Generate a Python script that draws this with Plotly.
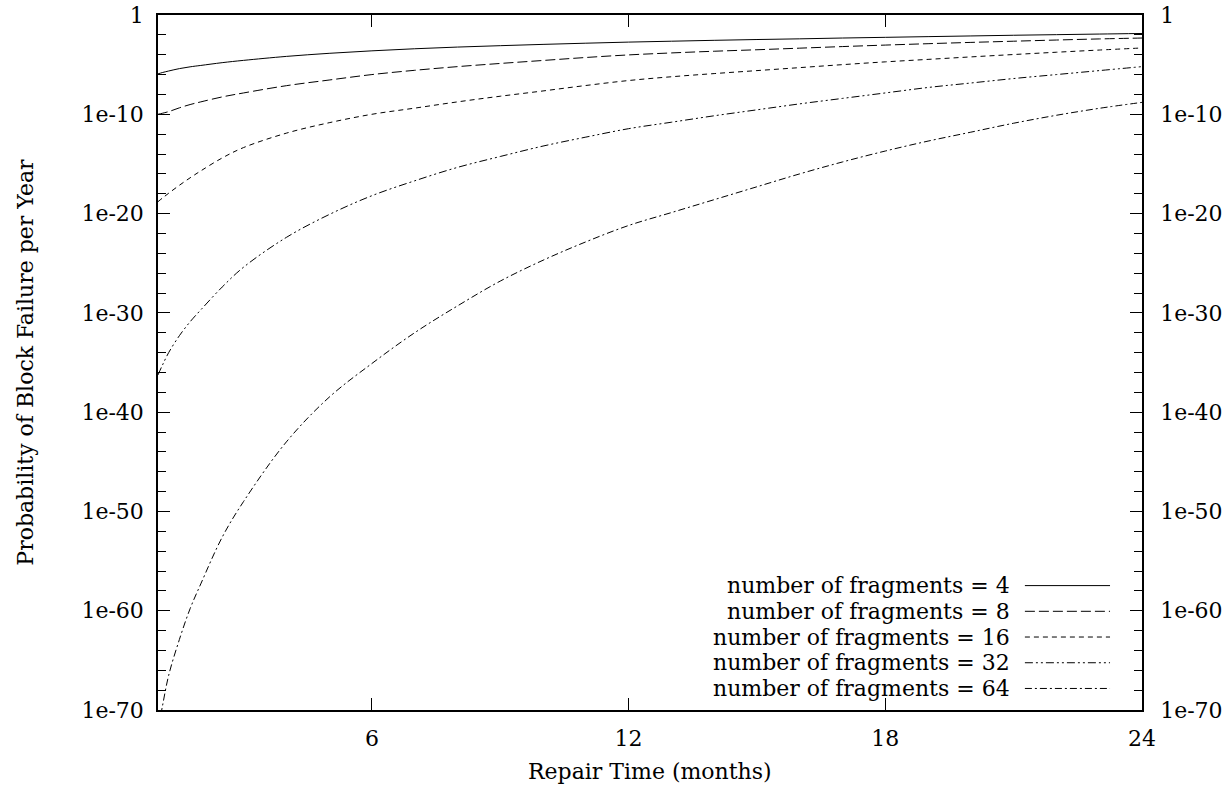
import plotly.graph_objects as go

# Repair time in months
months = [1, 1.1, 1.25, 1.5, 1.75, 2, 2.5, 3, 4, 5, 6, 7, 8, 9, 10, 11, 12,
          13, 14, 15, 16, 17, 18, 19, 20, 21, 22, 23, 24]

# Probability of block failure per year, given as decades below 1 (P = 10^-value)
neglog_n4 = [5.93, 5.8, 5.64, 5.40, 5.22, 5.08, 4.80, 4.57, 4.17, 3.86, 3.61, 3.40,
             3.23, 3.09, 2.96, 2.84, 2.73, 2.64, 2.55, 2.47, 2.40, 2.32, 2.25, 2.18,
             2.11, 2.04, 1.98, 1.92, 1.86]
neglog_n8 = [10.0, 9.9, 9.73, 9.35, 9.02, 8.75, 8.25, 7.85, 7.12, 6.55, 6.0, 5.57,
             5.2, 4.88, 4.58, 4.28, 4.02, 3.82, 3.65, 3.5, 3.34, 3.18, 3.03, 2.89,
             2.76, 2.64, 2.52, 2.41, 2.32]
neglog_n16 = [18.8, 18.45, 17.95, 17.15, 16.4, 15.7, 14.4, 13.35, 11.9, 10.85, 10.0,
              9.38, 8.75, 8.18, 7.65, 7.1, 6.6, 6.22, 5.9, 5.6, 5.3, 5.0, 4.72, 4.47,
              4.22, 3.98, 3.75, 3.53, 3.32]
neglog_n32 = [36.25, 35.3, 34.0, 32.3, 30.9, 29.7, 27.4, 25.4, 22.4, 20.1, 18.2,
              16.7, 15.35, 14.25, 13.2, 12.3, 11.45, 10.8, 10.15, 9.55, 8.95, 8.4,
              7.85, 7.3, 6.85, 6.4, 6.0, 5.6, 5.2]
neglog_n64 = [72.0, 69.7, 66.5, 62.9, 59.8, 57.3, 52.6, 49.0, 43.0, 38.5, 35.1, 32.0,
              29.3, 26.8, 24.7, 22.85, 21.2, 19.9, 18.6, 17.3, 16.0, 14.8, 13.7, 12.7,
              11.8, 10.9, 10.1, 9.4, 8.8]

series_names = ["number of fragments = 4", "number of fragments = 8",
                "number of fragments = 16", "number of fragments = 32",
                "number of fragments = 64"]
series_values = [neglog_n4, neglog_n8, neglog_n16, neglog_n32, neglog_n64]
dashes = ["solid", "10px,4px", "5px,4px", "8px,3px,2px,3px,2px,3px", "7px,3px,2px,3px"]

y_tickvals_exp = [0, -10, -20, -30, -40, -50, -60, -70]
y_ticktext = ["1", "1e-10", "1e-20", "1e-30", "1e-40", "1e-50", "1e-60", "1e-70"]
x_tickvals = [6, 12, 18, 24]

FONT = "DejaVu Serif"
FS = 22

fig = go.Figure()
for name, vals, dash in zip(series_names, series_values, dashes):
    fig.add_trace(go.Scatter(
        x=months, y=[10 ** (-v) for v in vals], mode="lines", name=name,
        line=dict(color="black", width=1, dash=dash, shape="spline", smoothing=1.0),
        showlegend=False))

# invisible trace to activate the right-hand mirrored axis
fig.add_trace(go.Scatter(x=months, y=[10 ** (-v) for v in neglog_n4], yaxis="y2",
                         mode="lines", line=dict(color="rgba(0,0,0,0)", width=0),
                         showlegend=False, hoverinfo="skip"))

ytickvals = [10 ** e for e in y_tickvals_exp]
minor_vals = [10 ** (-e) for e in range(2, 70, 2) if e % 10 != 0]

yaxis_common = dict(
    type="log", range=[-70, 0], tickmode="array", tickvals=ytickvals,
    ticktext=y_ticktext, ticks="inside", ticklen=12, tickwidth=1.3, tickcolor="black",
    showgrid=False, zeroline=False, showline=True, linecolor="black", linewidth=1.5,
    automargin=False,
    tickfont=dict(family=FONT, size=FS, color="black"),
    minor=dict(tickmode="array", tickvals=minor_vals, ticks="inside", ticklen=8,
               tickwidth=1.3, tickcolor="black", showgrid=False),
)

fig.update_layout(
    width=1228, height=786,
    margin=dict(l=158, r=86, t=15, b=76, autoexpand=False),
    paper_bgcolor="white", plot_bgcolor="white",
    font=dict(family=FONT, size=FS, color="black"),
    xaxis=dict(range=[1, 24], tickmode="array", tickvals=x_tickvals,
               ticks="inside", ticklen=12, tickwidth=1.3, tickcolor="black",
               showgrid=False, zeroline=False, showline=True, linecolor="black",
               linewidth=1.5, mirror="ticks", automargin=False,
               tickfont=dict(family=FONT, size=FS, color="black"),
               ticklabelstandoff=8),
    yaxis=dict(**yaxis_common, mirror=True, ticklabelstandoff=8),
    yaxis2=dict(**yaxis_common, overlaying="y", side="right", ticklabelstandoff=12),
    showlegend=False,
)

# axis titles
fig.add_annotation(x=0.5, y=-0.089, xref="paper", yref="paper",
                   text="Repair Time (months)", showarrow=False,
                   xanchor="center", yanchor="middle",
                   font=dict(family=FONT, size=FS, color="black"))
fig.add_annotation(x=-0.135, y=0.5, xref="paper", yref="paper",
                   text="Probability of Block Failure per Year", showarrow=False,
                   textangle=-90, xanchor="center", yanchor="middle",
                   font=dict(family=FONT, size=FS, color="black"))

# key (gnuplot style: right-aligned text with sample to its right)
row_y = [0.179, 0.142, 0.105, 0.068, 0.031]
for name, dash, ry in zip(series_names, dashes, row_y):
    fig.add_annotation(x=0.868, y=ry, xref="paper", yref="paper", text=name,
                       showarrow=False, xanchor="right", yanchor="middle",
                       font=dict(family=FONT, size=FS, color="black"))
    fig.add_shape(type="line", xref="paper", yref="paper", x0=0.881, x1=0.9675,
                  y0=ry, y1=ry, line=dict(color="black", width=1, dash=dash))

fig.write_html("out.html",
               config={"displayModeBar": False},
               post_script="document.body.style.margin='0';"
                           "document.body.style.overflow='hidden';")
